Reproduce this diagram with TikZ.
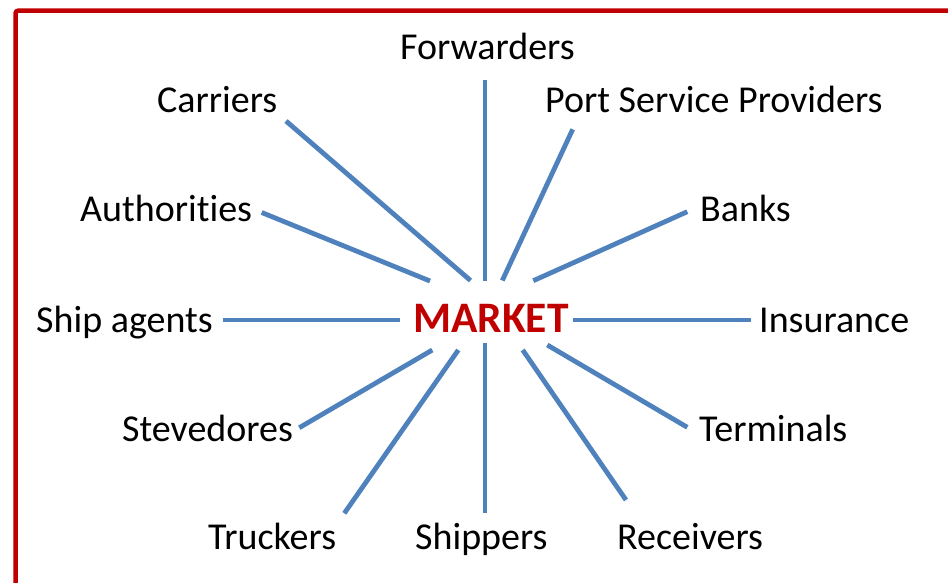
\documentclass[tikz,border=0pt]{standalone}
\usepackage{fontspec}
\setmainfont[Ligatures=NoCommon]{Carlito}
\definecolor{frame}{HTML}{C00000}
\definecolor{spoke}{HTML}{4F81BD}
\definecolor{mk}{HTML}{C00000}
\tikzset{
  lbl/.style={anchor=base west, inner sep=0pt, font=\fontsize{38}{40}\selectfont, text=black},
  mlbl/.style={anchor=base west, inner sep=0pt, font=\fontsize{43.5}{46}\selectfont\bfseries, text=mk},
  spk/.style={draw=spoke, line width=4.8pt},
}
\begin{document}
\begin{tikzpicture}[x=1pt,y=-1pt]
\useasboundingbox (0,0) rectangle (948,582);
\draw[frame, line width=4.5pt, rounded corners=3pt] (15.5,600) -- (15.5,10.5) -- (960,10.5);

\node[mlbl] (market) at (413,332) {MARKET};
\node[lbl] (forw) at (400,59) {Forwarders};
\node[lbl] (carr) at (157,112) {Carriers};
\node[lbl] (port) at (545,112) {Port Service Providers};
\node[lbl] (auth) at (80,221) {Authorities};
\node[lbl] (bank) at (700,221) {Banks};
\node[lbl] (ship) at (36,332) {Ship agents};
\node[lbl] (insu) at (759,332) {Insurance};
\node[lbl] (stev) at (122,441) {Stevedores};
\node[lbl] (term) at (699,441) {Terminals};
\node[lbl] (truc) at (208,549) {Truckers};
\node[lbl] (shpr) at (415,549) {Shippers};
\node[lbl] (recv) at (617,549) {Receivers};

\coordinate (forwA) at (485,80);    \coordinate (forwB) at (485,281);
\coordinate (carrA) at (286,121);   \coordinate (carrB) at (470.5,280.5);
\coordinate (portA) at (572.7,129.3); \coordinate (portB) at (502.3,280.5);
\coordinate (authA) at (261.7,212.5); \coordinate (authB) at (430,281);
\coordinate (bankA) at (687.3,211.7); \coordinate (bankB) at (533.3,280.7);
\coordinate (shipA) at (222.7,320);   \coordinate (shipB) at (400,320);
\coordinate (insuA) at (751,320);     \coordinate (insuB) at (573,320);
\coordinate (stevA) at (299.3,427.7); \coordinate (stevB) at (432.3,350);
\coordinate (termA) at (687.3,427.3); \coordinate (termB) at (547.3,345);
\coordinate (trucA) at (344.3,513.3); \coordinate (trucB) at (458.3,350);
\coordinate (shprA) at (485,512.7);   \coordinate (shprB) at (485,343.3);
\coordinate (recvA) at (626,500);     \coordinate (recvB) at (522.7,350);

\foreach \n in {forw,carr,port,auth,bank,ship,insu,stev,term,truc,shpr,recv}
  \draw[spk] (\n A) -- (\n B);
\end{tikzpicture}
\end{document}
